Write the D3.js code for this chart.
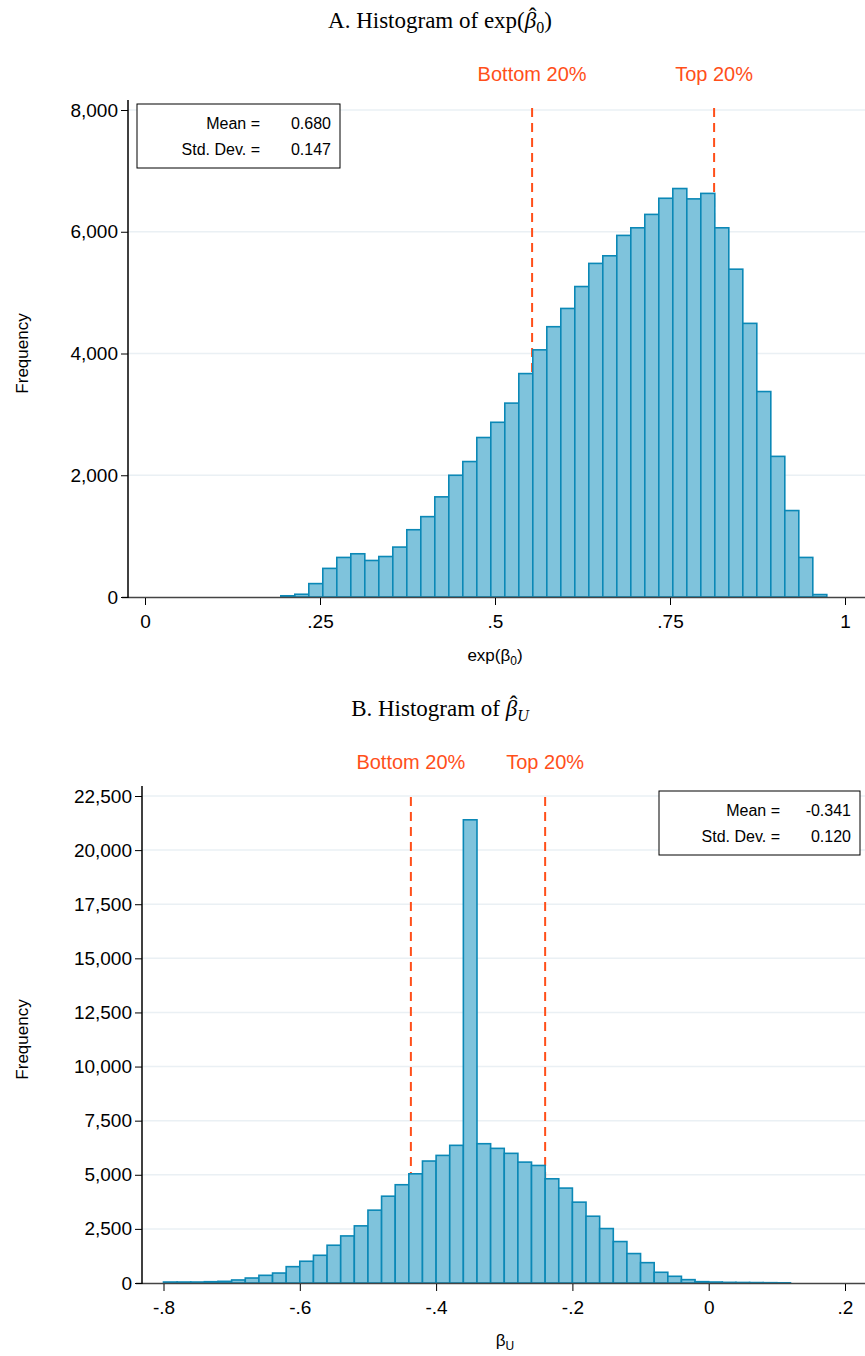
<!DOCTYPE html>
<html>
<head>
<meta charset="utf-8">
<script src="https://cdn.jsdelivr.net/npm/d3@7"></script>
<style>
  body { margin: 0; background: #fff; }
  text { font-family: "Liberation Sans", Arial, sans-serif; }
  .title { font-family: "Liberation Serif", "DejaVu Serif", serif; font-size: 23px; }
</style>
</head>
<body>
<svg id="chart" width="865" height="1356"></svg>
<script>
// Panel A: exp(beta0), bins of width 0.02 starting at 0.194
var aStart = 0.194, aWidth = 0.02;
var aCounts = [20, 45, 220, 470, 650, 710, 600, 665, 820, 1105, 1320, 1645, 2000, 2225, 2620,
  2870, 3185, 3670, 4060, 4440, 4740, 5100, 5480, 5605, 5940, 6065, 6285, 6550, 6710, 6540,
  6630, 6065, 5385, 4495, 3375, 2310, 1420, 650, 40];
var aTicksX = [0, 0.25, 0.5, 0.75, 1];
var aTickLabX = ["0", ".25", ".5", ".75", "1"];
var aTicksY = [0, 2000, 4000, 6000, 8000];
var aCuts = [0.553, 0.813];

// Panel B: beta_U, bins of width 0.02 starting at -0.8
var bStart = -0.8, bWidth = 0.02;
var bCounts = [45, 45, 45, 60, 77, 140, 230, 355, 460, 755, 1005, 1280, 1745, 2175, 2640,
  3365, 4010, 4540, 5045, 5635, 5895, 6360, 21400, 6435, 6220, 5990, 5585, 5430, 4815, 4385,
  3735, 3085, 2515, 1915, 1360, 940, 495, 310, 155, 62, 45, 30, 25, 20, 15, 10];
var bTicksX = [-0.8, -0.6, -0.4, -0.2, 0, 0.2];
var bTickLabX = ["-.8", "-.6", "-.4", "-.2", "0", ".2"];
var bTicksY = [0, 2500, 5000, 7500, 10000, 12500, 15000, 17500, 20000, 22500];
var bCuts = [-0.437, -0.240];

var svg = d3.select("#chart");
var fmt = d3.format(",");

function panel(o) {
    var x = d3.scaleLinear().domain(o.xDom).range(o.xRange);
    var y = d3.scaleLinear().domain(o.yDom).range(o.yRange);
    var g = svg.append("g");

    // gridlines
    g.selectAll(".grid").data(o.ticksY.slice(1)).enter().append("line")
        .attr("x1", o.left).attr("x2", 865)
        .attr("y1", d => y(d)).attr("y2", d => y(d))
        .attr("stroke", "#eaf0f4").attr("stroke-width", 1.5);

    // cut lines (behind bars)
    g.selectAll(".cut").data(o.cuts).enter().append("line")
        .attr("x1", d => x(d)).attr("x2", d => x(d))
        .attr("y1", o.cutTop).attr("y2", o.yRange[0])
        .attr("stroke", "#ff4f1a").attr("stroke-width", 2).attr("stroke-dasharray", "9,6");
    g.selectAll(".cutlab").data(o.cuts).enter().append("text")
        .attr("x", d => x(d)).attr("y", o.cutLabY).attr("text-anchor", "middle")
        .attr("fill", "#ff4f1a").attr("font-size", 20)
        .text((d, i) => i === 0 ? "Bottom 20%" : "Top 20%");

    // bars
    g.selectAll(".bar").data(o.counts).enter().append("rect")
        .attr("x", (d, i) => x(o.start + i * o.width))
        .attr("width", x(o.start + o.width) - x(o.start))
        .attr("y", d => y(d))
        .attr("height", d => y(0) - y(d))
        .attr("fill", "#7fc3dc").attr("stroke", "#0b88b6").attr("stroke-width", 1.6);

    // x axis
    g.append("line").attr("x1", o.left - 6).attr("x2", 865)
        .attr("y1", o.yRange[0] + 0.5).attr("y2", o.yRange[0] + 0.5)
        .attr("stroke", "#444").attr("stroke-width", 1.5);
    var xa = g.append("g").attr("transform", "translate(0," + (o.yRange[0] + 1) + ")")
        .call(d3.axisBottom(x).tickValues(o.ticksX).tickSize(7)
            .tickFormat((d, i) => o.tickLabX[i]));
    xa.select(".domain").remove();
    xa.selectAll("text").attr("font-size", 19).attr("dy", "1.05em").attr("fill", "#000");

    // y axis
    var ya = g.append("g").attr("transform", "translate(" + o.left + ",0)")
        .call(d3.axisLeft(y).tickValues(o.ticksY).tickSize(7).tickFormat(fmt));
    ya.select(".domain").attr("d", "M0," + (o.yRange[0] + 1) + "V" + (o.yRange[1] - 10)).attr("stroke-width", 1.5);
    ya.selectAll("text").attr("font-size", 19).attr("fill", "#000");

    svg.append("text").attr("transform", "translate(28," + ((o.yRange[0] + o.yRange[1]) / 2) + ") rotate(-90)")
        .attr("text-anchor", "middle").attr("font-size", 17).text("Frequency");

    // stats box
    var b = g.append("g").attr("transform", "translate(" + o.box[0] + "," + o.box[1] + ")");
    b.append("rect").attr("width", o.box[2]).attr("height", 64)
        .attr("fill", "#fff").attr("stroke", "#000").attr("stroke-width", 1);
    [["Mean =", o.stats[0]], ["Std. Dev. =", o.stats[1]]].forEach(function (r, i) {
        b.append("text").attr("x", o.box[2] - 80).attr("y", 25 + i * 26)
            .attr("text-anchor", "end").attr("font-size", 16).text(r[0]);
        b.append("text").attr("x", o.box[2] - 9).attr("y", 25 + i * 26)
            .attr("text-anchor", "end").attr("font-size", 16).text(r[1]);
    });
    return x;
}

panel({
    xDom: [0, 1], xRange: [145, 845], yDom: [0, 8000], yRange: [597, 110],
    left: 128, start: aStart, width: aWidth, counts: aCounts,
    ticksX: aTicksX, tickLabX: aTickLabX, ticksY: aTicksY, cuts: aCuts,
    cutTop: 108, cutLabY: 81, box: [137, 104, 203], stats: ["0.680", "0.147"]
});
panel({
    xDom: [-0.8, 0.2], xRange: [163.5, 845], yDom: [0, 22500], yRange: [1283, 796],
    left: 142, start: bStart, width: bWidth, counts: bCounts,
    ticksX: bTicksX, tickLabX: bTickLabX, ticksY: bTicksY, cuts: bCuts,
    cutTop: 797, cutLabY: 769, box: [659, 791, 201], stats: ["-0.341", "0.120"]
});

// titles; hat is a separate small text centred over the beta glyph
function title(y, pre, sub, subItalic, post) {
    var t = svg.append("text").attr("class", "title").attr("x", 440).attr("y", y).attr("text-anchor", "middle");
    t.append("tspan").text(pre);
    t.append("tspan").attr("font-style", "italic").text("\u03B2");
    t.append("tspan").attr("dy", 5).attr("font-size", 16)
        .attr("font-style", subItalic ? "italic" : "normal").text(sub);
    if (post) t.append("tspan").attr("dy", -5).text(post);
    var n = t.node(), i = pre.length;
    var s = n.getStartPositionOfChar(i).x, e = n.getEndPositionOfChar(i).x;
    svg.append("text").attr("class", "title").attr("x", (s + e) / 2 + 2).attr("y", y - 4)
        .attr("text-anchor", "middle").attr("font-size", 18).text("\u02C6");
}
title(28, "A. Histogram of exp(", "0", false, ")");
title(716, "B. Histogram of ", "U", true, null);

// x axis titles
var xA = svg.append("text").attr("x", 495).attr("y", 661).attr("text-anchor", "middle").attr("font-size", 17);
xA.append("tspan").text("exp(\u03B2");
xA.append("tspan").attr("font-size", 12).attr("dy", 4).text("0");
xA.append("tspan").attr("dy", -4).text(")");
var xB = svg.append("text").attr("x", 505).attr("y", 1346).attr("text-anchor", "middle").attr("font-size", 17);
xB.append("tspan").text("\u03B2");
xB.append("tspan").attr("font-size", 12).attr("dy", 4).text("U");
</script>
</body>
</html>
